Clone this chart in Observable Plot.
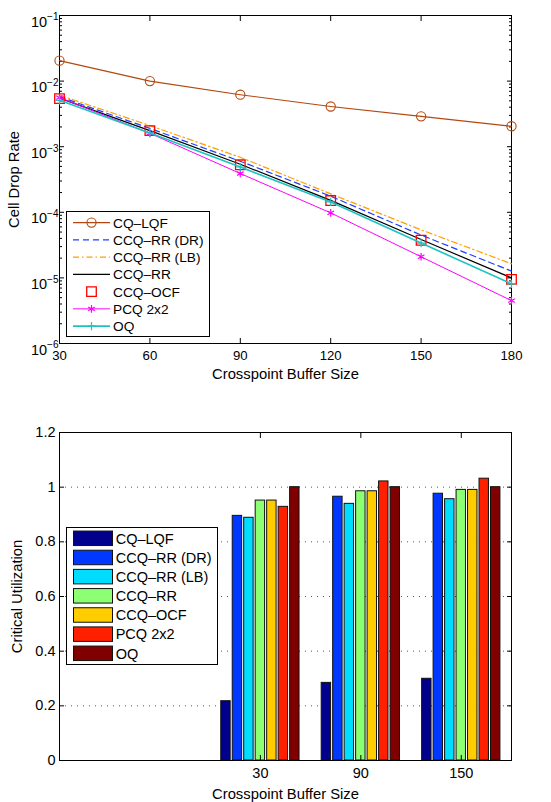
<!DOCTYPE html>
<html><head><meta charset="utf-8">
<script src="https://cdn.jsdelivr.net/npm/d3@7"></script>
<script src="https://cdn.jsdelivr.net/npm/@observablehq/plot@0.6"></script>
<style>
body{margin:0;background:#fff;font-family:"Liberation Sans",Arial,sans-serif;}
#wrap{position:relative;width:551px;height:802px;overflow:hidden;}
#wrap > svg{position:absolute;left:0;}
</style></head><body><div id="wrap"></div>
<script>
// ---------- DATA ----------
const seriesNames = ["CQ–LQF","CCQ–RR (DR)","CCQ–RR (LB)","CCQ–RR","CCQ–OCF","PCQ 2x2","OQ"];

// Top chart: cell drop rate vs crosspoint buffer size
const bufferSizes = [30, 60, 90, 120, 150, 180];
const dropCqLqf   = [0.0205, 0.0100, 0.0062, 0.0041, 0.0029, 0.00205];
const dropCcqRrDr = [0.0058, 0.0019, 0.00060, 0.000176, 4.5e-5, 1.27e-5];
const dropCcqRrLb = [0.0061, 0.0021, 0.00069, 0.000191, 5.4e-5, 1.64e-5];
const dropCcqRr   = [0.0055, 0.00176, 0.00054, 0.000152, 3.85e-5, 1.0e-5];
const dropCcqOcf  = [0.0054, 0.00176, 0.00053, 0.000151, 3.75e-5, 9.5e-6];
const dropPcq2x2  = [0.0056, 0.0016, 0.00039, 9.8e-5, 2.1e-5, 4.5e-6];
const dropOq      = [0.0051, 0.00162, 0.00049, 0.000144, 3.4e-5, 8.1e-6];
const dropMajorTicks = [1e-6, 1e-5, 1e-4, 1e-3, 1e-2, 1e-1];

// Bottom chart: critical utilization
const barSizes = [30, 90, 150];
const utilCqLqf   = [0.217, 0.284, 0.299];
const utilCcqRrDr = [0.895, 0.965, 0.976];
const utilCcqRrLb = [0.888, 0.939, 0.956];
const utilCcqRr   = [0.951, 0.985, 0.990];
const utilCcqOcf  = [0.951, 0.985, 0.990];
const utilPcq2x2  = [0.928, 1.021, 1.031];
const utilOq      = [1.000, 1.000, 1.000];
const utilTicks = [0, 0.2, 0.4, 0.6, 0.8, 1, 1.2];

// ---------- STYLES ----------
const FONT = "Liberation Sans, Arial, Helvetica, sans-serif";
const lineStyles = [
  {stroke:"#B3470F", width:1.1, dash:null, line:true, symbol:"circle", r:4.6, mstroke:1.1},
  {stroke:"#1F3FFF", width:1.2, dash:"6,4", line:true, symbol:null},
  {stroke:"#FFA000", width:1.2, dash:"6,3,1.5,3", line:true, symbol:null},
  {stroke:"#000000", width:1.2, dash:null, line:true, symbol:null},
  {stroke:"#FF0000", width:1.2, dash:null, line:false, symbol:"square", r:5.4, mstroke:1.3},
  {stroke:"#FF00FF", width:1, dash:null, line:true, symbol:"asterisk", r:3.6, mstroke:1.2},
  {stroke:"#1CC3C3", width:1.6, dash:null, line:true, symbol:"plus", r:2.8, mstroke:1.2}
];
const barColors = ["#00008C","#0038FF","#00DDFF","#8CFF73","#FFCC00","#FF2000","#800000"];
const blank = () => "";

const wrap = document.getElementById("wrap");

function setFont(svg, aria, size) {
  d3.select(svg).selectAll(`g[aria-label="${aria}"]`).attr("font-size", size)
    .selectAll("text").attr("font-size", size);
}

// ---------- TOP CHART ----------
const dropSeries = [dropCqLqf, dropCcqRrDr, dropCcqRrLb, dropCcqRr, dropCcqOcf, dropPcq2x2, dropOq];
const dropRows = [];
seriesNames.forEach((name, i) => bufferSizes.forEach((b, j) => dropRows.push({series: name, si: i, size: b, rate: dropSeries[i][j]})));
const minorTicks = [];
dropMajorTicks.slice(0, -1).forEach(t => { for (let k = 2; k <= 9; k++) minorTicks.push(t * k); });

const topMarks = [
  Plot.frame({stroke:"#000", strokeWidth:1}),
  Plot.axisX({anchor:"bottom", ticks:bufferSizes, tickSize:-5, tickPadding:12, tickFormat:d => String(d),
    label:"Crosspoint Buffer Size", labelAnchor:"center", labelArrow:"none", labelOffset:35}),
  Plot.axisX({anchor:"top", ticks:bufferSizes, tickSize:-5, tickFormat:blank, label:null}),
  Plot.axisY({anchor:"left", ticks:dropMajorTicks, tickSize:-5, tickPadding:6,
    tickFormat:d => "10^" + Math.round(Math.log10(d)),
    label:"Cell Drop Rate", labelAnchor:"center", labelArrow:"none", labelOffset:51}),
  Plot.axisY({anchor:"left", ticks:minorTicks, tickSize:-3, tickFormat:blank, label:null}),
  Plot.axisY({anchor:"right", ticks:dropMajorTicks, tickSize:-5, tickFormat:blank, label:null}),
  Plot.axisY({anchor:"right", ticks:minorTicks, tickSize:-3, tickFormat:blank, label:null})
];
seriesNames.forEach((name, i) => {
  const s = lineStyles[i];
  const rows = dropRows.filter(d => d.si === i);
  if (s.line) topMarks.push(Plot.line(rows, {x:"size", y:"rate", stroke:s.stroke, strokeWidth:s.width, strokeDasharray:s.dash}));
  if (s.symbol) topMarks.push(Plot.dot(rows, {x:"size", y:"rate", symbol:s.symbol, r:s.r, stroke:s.stroke, strokeWidth:s.mstroke, fill:"none"}));
});

const topSvg = Plot.plot({
  width:551, height:400,
  marginTop:15, marginBottom:57, marginLeft:59, marginRight:40,
  style:{fontFamily:FONT, fontSize:"14px", background:"transparent", color:"#000", overflow:"visible"},
  x:{domain:[30, 180]},
  y:{type:"log", domain:[1e-6, 1e-1]},
  marks: topMarks
});
topSvg.style.top = "0px";
wrap.appendChild(topSvg);
setFont(topSvg, "x-axis tick label", "13.2px");
setFont(topSvg, "y-axis tick label", "14.5px");
setFont(topSvg, "x-axis label", "14.8px");
setFont(topSvg, "y-axis label", "14.8px");

// superscript exponents on log ticks
d3.select(topSvg).selectAll('g[aria-label="y-axis tick label"] text').each(function() {
  const t = this.textContent;
  const parts = t.split("^");
  if (parts.length < 2) return;
  const sel = d3.select(this);
  sel.text(parts[0]);
  sel.attr("dy", "0.45em");
  sel.append("tspan").attr("dy", "-0.62em").attr("font-size", "10px").text(parts[1].replace("-", "−"));
});

// top legend
(function() {
  const L = {x:66, y:211, w:143, h:125, row0:222.6, step:17.25, lx0:73, lx1:110, tx:113};
  const svg = d3.create("svg").attr("width", 551).attr("height", 400).style("top", "0px").style("pointer-events", "none");
  svg.append("rect").attr("x", L.x + 0.5).attr("y", L.y + 0.5).attr("width", L.w).attr("height", L.h)
    .attr("fill", "#fff").attr("stroke", "#000").attr("stroke-width", 1);
  seriesNames.forEach((name, i) => {
    const s = lineStyles[i];
    const cy = L.row0 + i * L.step;
    const g = svg.append("g");
    if (s.line) g.append("line").attr("x1", L.lx0).attr("x2", L.lx1).attr("y1", cy).attr("y2", cy)
      .attr("stroke", s.stroke).attr("stroke-width", s.width).attr("stroke-dasharray", s.dash);
    if (s.symbol) {
      const symMap = {circle:d3.symbolCircle, square:d3.symbolSquare, asterisk:d3.symbolAsterisk, plus:d3.symbolPlus};
      g.append("path").attr("transform", `translate(${(L.lx0 + L.lx1) / 2},${cy})`)
        .attr("d", d3.symbol(symMap[s.symbol], Math.PI * s.r * s.r)())
        .attr("fill", "none").attr("stroke", s.stroke).attr("stroke-width", s.mstroke);
    }
    g.append("text").attr("x", L.tx).attr("y", cy).attr("dy", "0.36em")
      .attr("font-family", FONT).attr("font-size", "13.7px").attr("fill", "#000").text(name);
  });
  wrap.appendChild(svg.node());
})();

// ---------- BOTTOM CHART ----------
const utilSeries = [utilCqLqf, utilCcqRrDr, utilCcqRrLb, utilCcqRr, utilCcqOcf, utilPcq2x2, utilOq];
const barRows = [];
seriesNames.forEach((name, i) => barSizes.forEach((b, j) => barRows.push({series: name, si: i, size: b, value: utilSeries[i][j]})));
const groupSpacing = barSizes[1] - barSizes[0];
const slot = 0.8 / seriesNames.length * groupSpacing;
const barW = slot * 0.82;
const barCenter = d => d.size + (d.si - (seriesNames.length - 1) / 2) * slot;

const botSvg = Plot.plot({
  width:551, height:402,
  marginTop:32, marginBottom:42, marginLeft:59, marginRight:40,
  style:{fontFamily:FONT, fontSize:"14.5px", background:"transparent", color:"#000", overflow:"visible"},
  x:{domain:[barSizes[0] - 2 * groupSpacing, barSizes[2] + 0.5 * groupSpacing]},
  y:{domain:[0, 1.2]},
  marks:[
    Plot.gridY({ticks:[0.2, 0.4, 0.6, 0.8, 1.0], stroke:"#555", strokeOpacity:1, strokeDasharray:"1,5"}),
    Plot.rectY(barRows, {x1:d => barCenter(d) - barW / 2, x2:d => barCenter(d) + barW / 2, y1:0, y2:"value",
      fill:d => barColors[d.si], stroke:"#111", strokeWidth:1}),
    Plot.frame({stroke:"#000", strokeWidth:1}),
    Plot.axisX({anchor:"bottom", ticks:barSizes, tickSize:-5, tickPadding:12, tickFormat:d => String(d),
      label:"Crosspoint Buffer Size", labelAnchor:"center", labelArrow:"none", labelOffset:38}),
    Plot.axisX({anchor:"top", ticks:barSizes, tickSize:-5, tickFormat:blank, label:null}),
    Plot.axisY({anchor:"left", ticks:utilTicks, tickSize:-5, tickPadding:9,
      tickFormat:d => (d === 0 || d === 1) ? String(d) : d.toFixed(1),
      label:"Critical Utilization", labelAnchor:"center", labelArrow:"none", labelOffset:48}),
    Plot.axisY({anchor:"right", ticks:utilTicks, tickSize:-5, tickFormat:blank, label:null})
  ]
});
botSvg.style.top = "400px";
wrap.appendChild(botSvg);
setFont(botSvg, "x-axis tick label", "14.5px");
setFont(botSvg, "y-axis tick label", "14.5px");
setFont(botSvg, "x-axis label", "14.8px");
setFont(botSvg, "y-axis label", "14.8px");

// bottom legend
(function() {
  const L = {x:66, y:527, w:151, h:137, row0:538.3, step:19.17, sx:73, sw:39, sh:14.5, tx:115.7};
  const svg = d3.create("svg").attr("width", 551).attr("height", 802).style("top", "0px").style("pointer-events", "none");
  svg.append("rect").attr("x", L.x + 0.5).attr("y", L.y + 0.5).attr("width", L.w).attr("height", L.h)
    .attr("fill", "#fff").attr("stroke", "#000").attr("stroke-width", 1);
  seriesNames.forEach((name, i) => {
    const cy = L.row0 + i * L.step;
    svg.append("rect").attr("x", L.sx + 0.5).attr("y", cy - L.sh / 2).attr("width", L.sw).attr("height", L.sh)
      .attr("fill", barColors[i]).attr("stroke", "#111").attr("stroke-width", 1);
    svg.append("text").attr("x", L.tx).attr("y", cy).attr("dy", "0.36em")
      .attr("font-family", FONT).attr("font-size", "14.5px").attr("fill", "#000").text(name);
  });
  wrap.appendChild(svg.node());
})();
</script>
</body></html>
